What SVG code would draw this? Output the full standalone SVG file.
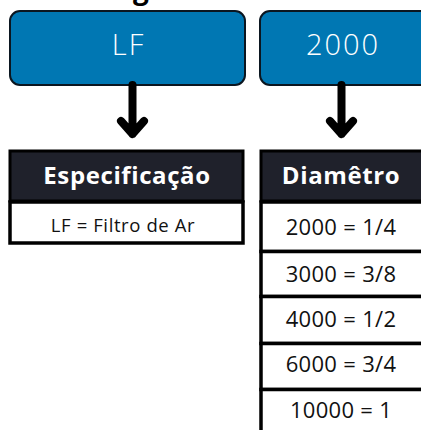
<svg xmlns="http://www.w3.org/2000/svg" width="421" height="430" viewBox="0 0 421 430">
<defs>
<style>
.box{fill:#0077B3;stroke:#0b1620;stroke-width:2}
.boxt{font-family:"Open Sans","Noto Sans",sans-serif;font-weight:300;font-size:29px;letter-spacing:2px;fill:#ffffff;text-anchor:middle}
.hdr{fill:#1f212b;stroke:#000;stroke-width:3}
.hdrt{font-family:"Open Sans","Noto Sans",sans-serif;font-weight:700;font-size:24px;letter-spacing:0.6px;fill:#ffffff;text-anchor:middle}
.cell{fill:#ffffff;stroke:#000;stroke-width:3.5}
.cellt{font-family:"Open Sans","Noto Sans",sans-serif;font-weight:400;font-size:22px;letter-spacing:0.3px;fill:#111;text-anchor:middle}
.cellt2{font-family:"Open Sans","Noto Sans",sans-serif;font-weight:400;font-size:18.5px;letter-spacing:0.6px;fill:#111;text-anchor:middle}
.arr{fill:none;stroke:#000;stroke-width:8;stroke-linecap:round;stroke-linejoin:round}
</style>
</defs>
<rect width="421" height="430" fill="#ffffff"/>
<text x="141" y="-1" font-family="Open Sans, sans-serif" font-weight="700" font-size="28" text-anchor="middle" fill="#000">g</text>
<g id="node-lf">
<rect class="box" x="10" y="11" width="235" height="74" rx="10"/>
<text class="boxt" x="128.5" y="55">LF</text>
</g>
<g id="node-2000">
<rect class="box" x="260" y="11" width="200" height="74" rx="10"/>
<text class="boxt" x="343" y="55">2000</text>
</g>
<g id="connectors">
<path class="arr" d="M132.5 85 V134 M121 121 L132.5 134 L144 121"/>
<path class="arr" d="M341.5 85 V134 M330 121 L341.5 134 L353 121"/>
</g>
<g id="table-especificacao">
<rect class="hdr" x="10" y="151" width="233" height="50"/>
<text class="hdrt" x="127" y="184">Especificação</text>
<rect class="cell" x="10" y="202" width="233" height="41"/>
<text class="cellt2" x="123" y="232">LF = Filtro de Ar</text>
</g>
<g id="table-diametro">
<rect class="hdr" x="261" y="151" width="180" height="50"/>
<text class="hdrt" x="341" y="184">Diamêtro</text>
<rect class="cell" x="261" y="202" width="180" height="49.5"/>
<text class="cellt" x="341" y="235">2000 = 1/4</text>
<rect class="cell" x="261" y="251.5" width="180" height="45"/>
<text class="cellt" x="341" y="282">3000 = 3/8</text>
<rect class="cell" x="261" y="296.5" width="180" height="47"/>
<text class="cellt" x="341" y="327">4000 = 1/2</text>
<rect class="cell" x="261" y="343.5" width="180" height="46"/>
<text class="cellt" x="341" y="372">6000 = 3/4</text>
<rect class="cell" x="261" y="389.5" width="180" height="60"/>
<text class="cellt" x="341" y="418">10000 = 1</text>
</g>
</svg>
